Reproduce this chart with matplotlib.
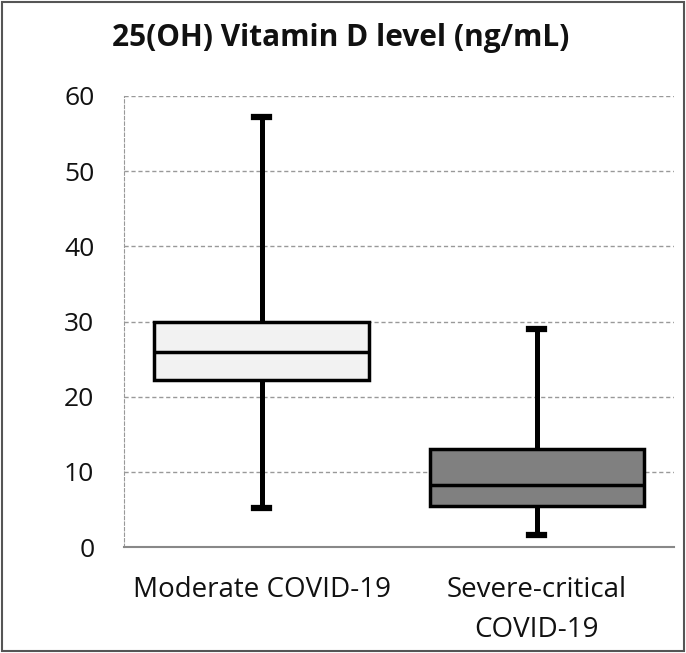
import matplotlib
matplotlib.use("Agg")
import matplotlib.pyplot as plt
from matplotlib.patches import Rectangle

categories = ["Moderate COVID-19", "Severe-critical\nCOVID-19"]
whisker_low = [5.2, 1.6]
q1 = [22.2, 5.5]
median = [25.9, 8.3]
q3 = [30.0, 13.0]
whisker_high = [57.2, 29.0]
fill_colors = ["#f2f2f2", "#808080"]
yticks = [0, 10, 20, 30, 40, 50, 60]

plt.rcParams['font.family'] = ['Open Sans', 'DejaVu Sans']

fig = plt.figure(figsize=(6.86, 6.53), dpi=100)
ax = fig.add_axes([0.181, 0.1623, 0.802, 0.6907])

stats = []
for i, c in enumerate(categories):
    stats.append(dict(label=c, whislo=whisker_low[i], q1=q1[i], med=median[i],
                      q3=q3[i], whishi=whisker_high[i], fliers=[]))

bp = ax.bxp(stats, positions=[1, 2], widths=0.78, patch_artist=True,
            showfliers=False, capwidths=0.055,
            boxprops=dict(linewidth=2.5, edgecolor='black'),
            medianprops=dict(color='black', linewidth=2.5),
            whiskerprops=dict(color='black', linewidth=3.6),
            capprops=dict(color='black', linewidth=4.5))
for patch, col in zip(bp['boxes'], fill_colors):
    patch.set_facecolor(col)
    patch.set_zorder(3)
for k in ('whiskers', 'caps'):
    for l in bp[k]:
        l.set_zorder(2)
for l in bp['medians']:
    l.set_zorder(4)

ax.set_xlim(0.5, 2.5)
ax.set_ylim(0, 60)
ax.set_yticks(yticks)
ax.yaxis.grid(True, linestyle=(0, (3, 2)), color='#999999', linewidth=1)
ax.set_axisbelow(True)
for s in ('top', 'right'):
    ax.spines[s].set_visible(False)
ax.spines['left'].set_linestyle((0, (3, 2)))
ax.spines['left'].set_color('#999999')
ax.spines['bottom'].set_color('#888888')
ax.spines['bottom'].set_linewidth(1.5)
ax.tick_params(axis='y', length=0, labelsize=19, colors='#111111', pad=21.5)
ax.tick_params(axis='x', length=0, colors='#111111', pad=21)
ax.set_xticks([1, 2])
ax.set_xticklabels(categories, fontsize=20, linespacing=1.55)

fig.text(0.496, 0.942, "25(OH) Vitamin D level (ng/mL)", ha='center', va='center',
         fontsize=21.5, fontweight='bold', color='#111111')

fig.patches.append(Rectangle((0.003, 0.003), 0.994, 0.994, transform=fig.transFigure,
                             fill=False, edgecolor='#555555', linewidth=1.5))

fig.savefig("out.png", dpi=100)
